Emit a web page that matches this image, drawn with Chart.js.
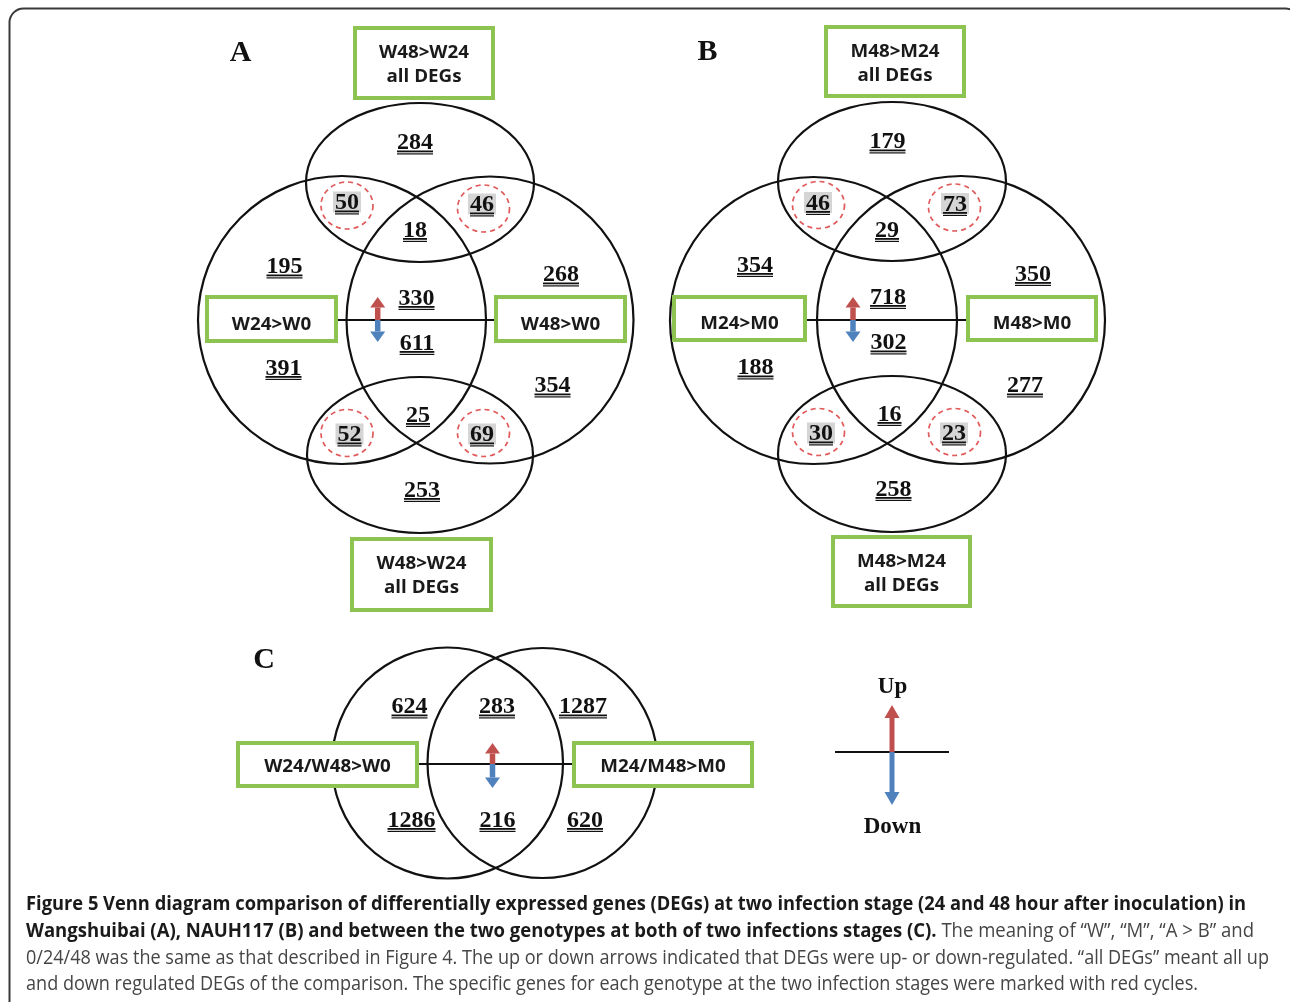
<!DOCTYPE html>
<html><head><meta charset="utf-8">
<script src="https://cdn.jsdelivr.net/npm/chart.js@4.4.0/dist/chart.umd.min.js"></script>
<style>html,body{margin:0;padding:0;background:#fff;overflow:hidden}#wrap{position:relative;width:1290px;height:1002px}</style>
</head><body><div id="wrap"><canvas id="c"></canvas></div>
<script>
// ---------------- DATA ----------------
const panelAValues = [284, 50, 46, 18, 195, 268, 330, 611, 391, 354, 25, 52, 69, 253];
const panelBValues = [179, 46, 73, 29, 354, 350, 718, 302, 188, 277, 16, 30, 23, 258];
const panelCValues = [624, 283, 1287, 1286, 216, 620];
const specificA = [false, true, true, false, false, false, false, false, false, false, false, true, true, false];
const specificB = [false, true, true, false, false, false, false, false, false, false, false, true, true, false];
const panelASetLabels = [['W48>W24', 'all DEGs'], ['W24>W0'], ['W48>W0'], ['W48>W24', 'all DEGs']];
const panelBSetLabels = [['M48>M24', 'all DEGs'], ['M24>M0'], ['M48>M0'], ['M48>M24', 'all DEGs']];
const panelCSetLabels = [['W24/W48>W0'], ['M24/M48>M0']];
const panelLetters = ['A', 'B', 'C'];
const legendLabels = ['Up', 'Down'];
const captionLines = [
  [['Figure 5 Venn diagram comparison of differentially expressed genes (DEGs) at two infection stage (24 and 48 hour after inoculation) in', true]],
  [['Wangshuibai (A), NAUH117 (B) and between the two genotypes at both of two infections stages (C).', true], [' The meaning of \u201CW\u201D, \u201CM\u201D, \u201CA > B\u201D and', false]],
  [['0/24/48 was the same as that described in Figure 4. The up or down arrows indicated that DEGs were up- or down-regulated. \u201Call DEGs\u201D meant all up', false]],
  [['and down regulated DEGs of the comparison. The specific genes for each genotype at the two infection stages were marked with red cycles.', false]]
];

// ---------------- LAYOUT (page coordinates) ----------------
const posA = [[415,141],[347,201],[482,203],[415,228.5],[284.5,265],[561,273],[416.5,296.5],[417,341.5],[283.5,366.5],[552.5,384],[418,413.5],[349.5,433],[482,433],[422,488.5]];
const posB = [[887.5,140],[818,201.5],[955,202.5],[887,228.5],[755,263.5],[1033,272.5],[888,295.5],[888.5,341],[755.5,366],[1025,384],[889.5,412.5],[821,432],[954,432],[893.5,487.5]];
const posC = [[409.5,705],[497,705],[583,705],[411.5,818.5],[497.5,818.5],[585,818.5]];
const shapesA = {ell:[[420,182.5,114,79.5],[342,320,144,144],[490,320,143.5,143.5],[420,455,113,78]],
  boxes:[[353,26,495,100],[205,295,338,343],[494,295,627,343],[350,537,493,612]],
  line:[338,494,320], arrow:[377.7,320,297,342], spec:[[347,205.5],[483.5,208.5],[347,433],[483.5,433]]};
const shapesB = {ell:[[892,181.5,114,79.5],[813.5,320.5,143.5,143.5],[961,320,144,144],[892,454,114,78]],
  boxes:[[824,25,966,98],[672,295,807,342],[966,295,1098,342],[831,535,972,608]],
  line:[807,966,320], arrow:[853,320,297,342], spec:[[818.5,205],[954.5,207.5],[818.5,432],[954.5,432]]};
const shapesC = {ell:[[447.5,763,115.5,115.5],[542.5,763,115,115]],
  boxes:[[236,741,419,788],[572,741,754,788]],
  line:[419,572,764], arrow:[492.5,764,743,788], spec:[]};
const letterPos = [[240.5,61],[707.5,60],[264,668]];
const captionRight = [1246, 1254, 1269, 1198];

const GREEN = '#8DC351', RED = '#C0504D', BLUE = '#4F81BD';

function pts(pos, vals){ return vals.map((v,i)=>({x:pos[i][0], y:pos[i][1], v:v})); }

const drawPlugin = {
  id:'venn',
  beforeDatasetsDraw(chart){
    const ctx = chart.ctx, xs = chart.scales.x, ys = chart.scales.y;
    const X = v => xs.getPixelForValue(v), Y = v => ys.getPixelForValue(v);
    const SX = w => X(w) - X(0), SY = h => Y(h) - Y(0);
    ctx.save();
    // outer frame
    ctx.strokeStyle = '#3a3a3a'; ctx.lineWidth = 2;
    ctx.beginPath(); ctx.roundRect(X(9.5), Y(8.5), SX(1290), SY(1200), 14); ctx.stroke();

    function arrow(x, y0, y1, color, hw, hl, sw){
      const dir = y1 < y0 ? -1 : 1;
      ctx.fillStyle = color;
      ctx.fillRect(X(x - sw/2), Y(Math.min(y0, y1 - dir*hl)), SX(sw), SY(Math.abs(y1 - dir*hl - y0)));
      ctx.beginPath();
      ctx.moveTo(X(x), Y(y1));
      ctx.lineTo(X(x - hw), Y(y1 - dir*hl));
      ctx.lineTo(X(x + hw), Y(y1 - dir*hl));
      ctx.closePath(); ctx.fill();
    }
    function boxText(lines, b, single){
      ctx.fillStyle = '#1a1a1a';
      ctx.font = 'bold 17px "Open Sans"';
      const ref = ctx.measureText('W48>W24').width;
      const f = 90 / ref;
      const cx = (b[0] + b[2]) / 2;
      const bases = lines.length === 2 ? [b[1] + 31.5, b[1] + 56] : [ (b[1] + b[3]) / 2 + single ];
      lines.forEach((t, i) => {
        ctx.save(); ctx.translate(X(cx), Y(bases[i])); ctx.scale(f, 1);
        ctx.textAlign = 'center'; ctx.textBaseline = 'alphabetic';
        ctx.fillText(t, 0, 0); ctx.restore();
      });
    }
    function panel(s, labels, single){
      ctx.strokeStyle = '#111'; ctx.lineWidth = 2.2; ctx.setLineDash([]);
      s.ell.forEach(e => { ctx.beginPath(); ctx.ellipse(X(e[0]), Y(e[1]), SX(e[2]), SY(e[3]), 0, 0, Math.PI*2); ctx.stroke(); });
      // red dashed circles
      ctx.strokeStyle = '#E05A5A'; ctx.lineWidth = 1.7; ctx.setLineDash([5,4]);
      s.spec.forEach(c => { ctx.beginPath(); ctx.ellipse(X(c[0]), Y(c[1]), SX(26), SY(23.5), 0, 0, Math.PI*2); ctx.stroke(); });
      ctx.setLineDash([]);
      // boxes
      s.boxes.forEach((b, i) => {
        ctx.fillStyle = '#fff';
        ctx.fillRect(X(b[0]), Y(b[1]), SX(b[2]-b[0]), SY(b[3]-b[1]));
        ctx.strokeStyle = GREEN; ctx.lineWidth = 4;
        ctx.strokeRect(X(b[0]+2), Y(b[1]+2), SX(b[2]-b[0]-4), SY(b[3]-b[1]-4));
        boxText(labels[i], b, single);
      });
      // divider
      ctx.strokeStyle = '#111'; ctx.lineWidth = 2.2;
      ctx.beginPath(); ctx.moveTo(X(s.line[0]), Y(s.line[2])); ctx.lineTo(X(s.line[1]), Y(s.line[2])); ctx.stroke();
      arrow(s.arrow[0], s.arrow[1], s.arrow[2], RED, 7.5, 10.5, 5.5);
      arrow(s.arrow[0], s.arrow[1], s.arrow[3], BLUE, 7.5, 10.5, 5.5);
    }
    panel(shapesA, panelASetLabels, 11);
    panel(shapesB, panelBSetLabels, 10.5);
    panel(shapesC, panelCSetLabels, 7.5);

    // legend
    ctx.strokeStyle = '#111'; ctx.lineWidth = 2.2;
    ctx.beginPath(); ctx.moveTo(X(835), Y(752)); ctx.lineTo(X(949), Y(752)); ctx.stroke();
    arrow(892, 752, 705, RED, 7.5, 13, 5);
    arrow(892, 752, 805, BLUE, 7.5, 13, 5);
    ctx.fillStyle = '#111'; ctx.font = 'bold 23px "Liberation Serif"'; ctx.textAlign = 'center'; ctx.textBaseline = 'alphabetic';
    ctx.fillText(legendLabels[0], X(892.5), Y(693));
    ctx.fillText(legendLabels[1], X(892.5), Y(833));

    // panel letters
    ctx.font = 'bold 30px "Liberation Serif"';
    panelLetters.forEach((l, i) => ctx.fillText(l, X(letterPos[i][0]), Y(letterPos[i][1])));

    // caption
    const fontB = 'bold 20px "Open Sans"', fontN = '20px "Open Sans"';
    const bases = [910, 937, 963.5, 990];
    ctx.textAlign = 'left';
    captionLines.forEach((segs, li) => {
      let total = 0;
      segs.forEach(sg => { ctx.font = sg[1] ? fontB : fontN; total += ctx.measureText(sg[0]).width; });
      const f = (captionRight[li] - 26) / total;
      ctx.save(); ctx.translate(X(26), Y(bases[li])); ctx.scale(f, 1);
      let x = 0;
      segs.forEach(sg => {
        ctx.font = sg[1] ? fontB : fontN;
        ctx.fillStyle = sg[1] ? '#1a1a1a' : '#454545';
        ctx.fillText(sg[0], x, 0);
        x += ctx.measureText(sg[0]).width;
      });
      ctx.restore();
    });
    ctx.restore();
  },
  afterDatasetsDraw(chart){
    const ctx = chart.ctx;
    ctx.save();
    ctx.font = 'bold 24px "Liberation Serif"';
    ctx.textAlign = 'center'; ctx.textBaseline = 'alphabetic';
    chart.data.datasets.forEach((ds, di) => {
      const meta = chart.getDatasetMeta(di);
      meta.data.forEach((el, j) => {
        const txt = String(ds.data[j].v);
        const w = ctx.measureText(txt).width;
        const base = el.y + 8;
        if (ds.specific && ds.specific[j]) {
          ctx.fillStyle = '#D5D5D5';
          ctx.fillRect(el.x - w/2 - 2, el.y - 9.5, w + 4, 21);
        }
        ctx.fillStyle = '#111';
        ctx.fillText(txt, el.x, base);
        ctx.fillRect(el.x - w/2, base + 1.5, w, 1.8);
        ctx.fillRect(el.x - w/2, base + 4.3, w, 1.2);
      });
    });
    ctx.restore();
  }
};

new Chart(document.getElementById('c'), {
  type: 'scatter',
  data: { datasets: [
    { label: 'A', data: pts(posA, panelAValues), specific: specificA, pointRadius: 0 },
    { label: 'B', data: pts(posB, panelBValues), specific: specificB, pointRadius: 0 },
    { label: 'C', data: pts(posC, panelCValues), specific: [], pointRadius: 0 }
  ]},
  options: {
    responsive: true, maintainAspectRatio: false, animation: false,
    layout: { padding: 0 },
    events: [],
    plugins: { legend: { display: false }, tooltip: { enabled: false } },
    scales: {
      x: { type: 'linear', min: 0, max: 1290, display: false },
      y: { type: 'linear', min: 0, max: 1002, reverse: true, display: false }
    }
  },
  plugins: [drawPlugin]
});
</script>
</body></html>
